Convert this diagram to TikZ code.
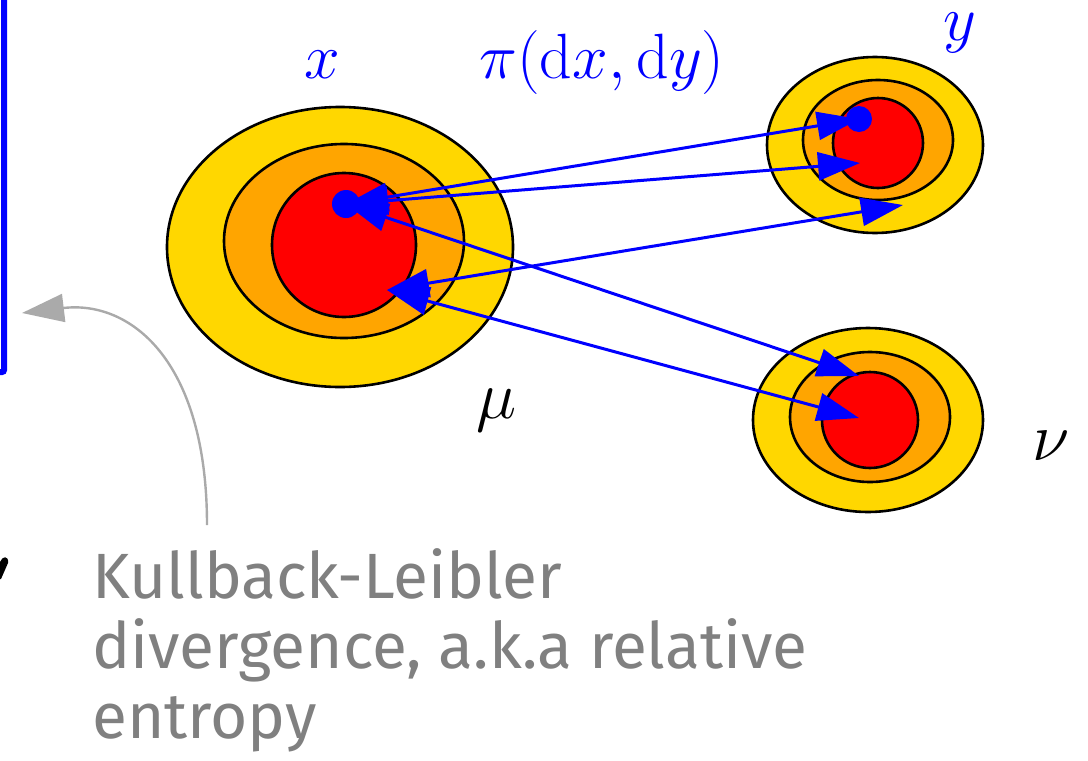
\RequirePackage{fix-cm}
\documentclass[tikz,border=0pt]{standalone}
\usepackage{fontspec}
\newfontfamily\fira{Fira Sans}
\usetikzlibrary{arrows.meta}
\definecolor{cgold}{HTML}{FFD700}
\definecolor{corange}{HTML}{FFA500}
\definecolor{cred}{HTML}{FF0000}
\definecolor{cgraytext}{HTML}{808080}
\definecolor{cgrayarrow}{HTML}{AAAAAA}
\tikzset{
  ring/.style={draw=black, line width=2.6pt},
  tarrow/.style={blue, line width=3pt,
    {Triangle[length=42pt,width=28pt]}-{Triangle[length=42pt,width=28pt]}},
  bigdot/.style={fill=blue},
  toplabel/.style={text=blue, font=\fontsize{64}{70}\selectfont, inner sep=0pt},
  measlabel/.style={text=black, font=\fontsize{68}{74}\selectfont, inner sep=0pt},
}
\begin{document}
\begin{tikzpicture}[x=1pt, y=-1pt]
\useasboundingbox (0,0) rectangle (1088,761);
\begin{scope}
\clip (0,0) rectangle (1088,761);
% left blue frame (cut off)
\draw[blue, line width=6pt, rounded corners=2pt] (-60,-60) rectangle (4,372);
% black glyph fragment
\fill[black] (0,562) .. controls (2,556) and (9,555) .. (8,563) -- (1,579) -- (0,579) -- cycle;
\end{scope}

% left measure mu
\draw[ring, fill=cgold] (340,247) ellipse [x radius=173, y radius=140];
\draw[ring, fill=corange] (344,241) ellipse [x radius=120, y radius=97];
\draw[ring, fill=cred] (344,245) circle [radius=72];
% top right
\draw[ring, fill=cgold] (875,145) ellipse [x radius=108, y radius=88];
\draw[ring, fill=corange] (878,140) ellipse [x radius=75, y radius=60];
\draw[ring, fill=cred] (878,143) circle [radius=45];
% bottom right
\draw[ring, fill=cgold] (868,420) ellipse [x radius=115, y radius=92];
\draw[ring, fill=corange] (870,417) ellipse [x radius=80, y radius=65];
\draw[ring, fill=cred] (870,420) circle [radius=48];

% end points
\coordinate (xa) at (346,204);
\coordinate (xb) at (387,290);
\coordinate (ya) at (859,119);
\coordinate (yb) at (860,163);
\coordinate (yc) at (903,205);
\coordinate (za) at (859,376);
\coordinate (zb) at (859,418);

\draw[tarrow] (xa) -- (ya);
\draw[tarrow] (xa) -- (yb);
\draw[tarrow] (xa) -- (za);
\draw[tarrow] (xb) -- (yc);
\draw[tarrow] (xb) -- (zb);

\fill[bigdot] (xa) circle [radius=14];
\fill[bigdot] (ya) circle [radius=13];

% labels
\node[toplabel, anchor=base] (lx) at (322,78) {$x$};
\node[toplabel, anchor=base] (lpi) at (602,78) {$\pi(\mathrm{d}x,\mathrm{d}y)$};
\node[toplabel, anchor=base] (ly) at (960,40) {$y$};
\node[measlabel, anchor=base] (lmu) at (497,418) {$\mu$};
\node[measlabel, anchor=base] (lnu) at (1051,460) {$\nu$};

% KL text
\node[anchor=base west, inner sep=0pt, text=cgraytext, align=left,
      font=\fira\fontsize{64}{70}\selectfont] (kl) at (92,738)
  {Kullback-Leibler\\divergence, a.k.a relative\\entropy};
\coordinate (klstart) at (207,525);
\coordinate (frameend) at (22,313);
\draw[cgrayarrow, line width=2.4pt, -{Triangle[length=42pt,width=28pt]}]
  (klstart) .. controls (207,360) and (130,300) .. (frameend);
\end{tikzpicture}
\end{document}
